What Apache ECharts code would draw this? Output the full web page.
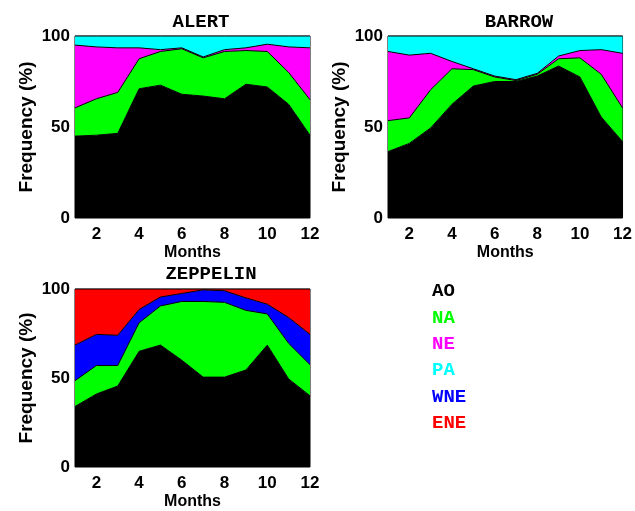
<!DOCTYPE html>
<html><head><meta charset="utf-8">
<script src="https://cdn.jsdelivr.net/npm/echarts@6/dist/echarts.min.js"></script>
<style>html,body{margin:0;padding:0;background:#fff}#c{width:635px;height:511px}</style>
</head><body><div id="c"></div>
<script>
var months = ['1','2','3','4','5','6','7','8','9','10','11','12'];
var tickLabels = ['0','50','100'];
var titles = ['ALERT','BARROW','ZEPPELIN'];
var legendNames = ['AO','NA','NE','PA','WNE','ENE'];
var legendColors = ['#000000','#00ff00','#ff00ff','#00ffff','#0000ff','#ff0000'];

var alertAO = [45,45.5,46.5,71,73,68,67,65.5,73.5,72,62.5,45.5];
var alertNA = [15.5,20,22.5,16.5,18.5,25,21,26,18.5,19.5,17.5,19.5];
var alertNE = [34.5,28.5,24.5,6,1,0.5,0.5,1,1.5,4,14,28.5];
var alertPA = [5,6,6.5,6.5,7.5,6.5,11.5,7.5,6.5,4.5,6,6.5];

var barrowAO = [36.5,41,49.5,62.5,72.5,75,75,78,83.5,77.5,55.5,42];
var barrowNA = [17,14,21,19.5,9,2.5,0.5,1,4,10.5,23.5,18.5];
var barrowNE = [38,34.5,20,4,0.5,0.5,0.5,0.5,1.5,4,13.5,30];
var barrowPA = [8.5,10.5,9.5,14,18,22,24,20.5,11,8,7.5,9.5];

var zeppAO = [34,41,45.5,65,68.5,60,50.5,50.5,54.5,68.5,49.5,40];
var zeppNA = [14.5,16,11.5,16,22,33,42.5,42,33.5,17.5,20,17.5];
var zeppWNE = [20,17.5,17,7.5,5,4.5,6.5,6.5,7,5.5,14.5,17];
var zeppENE = [31.5,25.5,26,11.5,4.5,2.5,0.5,1,5,8.5,16,25.5];

var colorOf = {};
legendNames.forEach(function(n,i){colorOf[n]=legendColors[i];});

var plots = [
  {grid:{left:75,top:36,width:235,height:182}, series:[['AO',alertAO],['NA',alertNA],['NE',alertNE],['PA',alertPA]]},
  {grid:{left:388,top:36,width:235,height:182}, series:[['AO',barrowAO],['NA',barrowNA],['NE',barrowNE],['PA',barrowPA]]},
  {grid:{left:75,top:289,width:235,height:182}, series:[['AO',zeppAO],['NA',zeppNA],['WNE',zeppWNE],['ENE',zeppENE]]}
];
var titlePos = [[200,19],[518,19],[210,271]];

var sansBold = {fontFamily:'Liberation Sans, Arial, sans-serif', fontWeight:'bold', color:'#000'};
var mono = 'Courier New, Liberation Mono, monospace';

var option = {
  animation:false,
  backgroundColor:'#fff',
  title: titles.map(function(t,i){
    return {text:t, left:titlePos[i][0]-4, top:titlePos[i][1]-11, textAlign:'center',
      textStyle:{fontFamily:mono, fontWeight:'bold', fontSize:19, color:'#000'}};
  }),
  grid: plots.map(function(p){
    return Object.assign({show:true, borderColor:'#000', borderWidth:1, backgroundColor:'transparent'}, p.grid);
  }),
  xAxis: plots.map(function(p,i){
    return {type:'category', gridIndex:i, data:months, boundaryGap:false,
      name:'Months', nameLocation:'middle', nameGap:27,
      nameTextStyle:Object.assign({fontSize:16}, sansBold),
      axisLine:{show:false}, axisTick:{show:false}, splitLine:{show:false},
      axisLabel:Object.assign({fontSize:17, margin:8,
        interval:function(idx){return idx%2===1;}}, sansBold)};
  }),
  yAxis: plots.map(function(p,i){
    return {type:'value', gridIndex:i, min:0, max:100, interval:50,
      name:'Frequency (%)', nameLocation:'middle', nameGap:39,
      nameTextStyle:Object.assign({fontSize:19}, sansBold),
      axisLine:{show:false}, axisTick:{show:false}, splitLine:{show:false},
      axisLabel:Object.assign({fontSize:17, margin:5,
        formatter:function(v){return tickLabels.indexOf(String(v))>=0?String(v):'';}}, sansBold)};
  }),
  series: [],
  graphic: legendNames.map(function(n,i){
    return {type:'text', left:432, top:282+i*26.4,
      style:{text:n, fill:legendColors[i], font:'bold 19px '+mono}};
  })
};

plots.forEach(function(p,i){
  p.series.forEach(function(s){
    option.series.push({
      type:'line', name:s[0], xAxisIndex:i, yAxisIndex:i, stack:'st'+i,
      data:s[1], showSymbol:false, symbol:'none',
      lineStyle:{color:'#000', width:1},
      itemStyle:{color:colorOf[s[0]]},
      areaStyle:{color:colorOf[s[0]], opacity:1},
      z:2
    });
  });
});

var chart = echarts.init(document.getElementById('c'), null, {renderer:'canvas'});
chart.setOption(option);
</script></body></html>
